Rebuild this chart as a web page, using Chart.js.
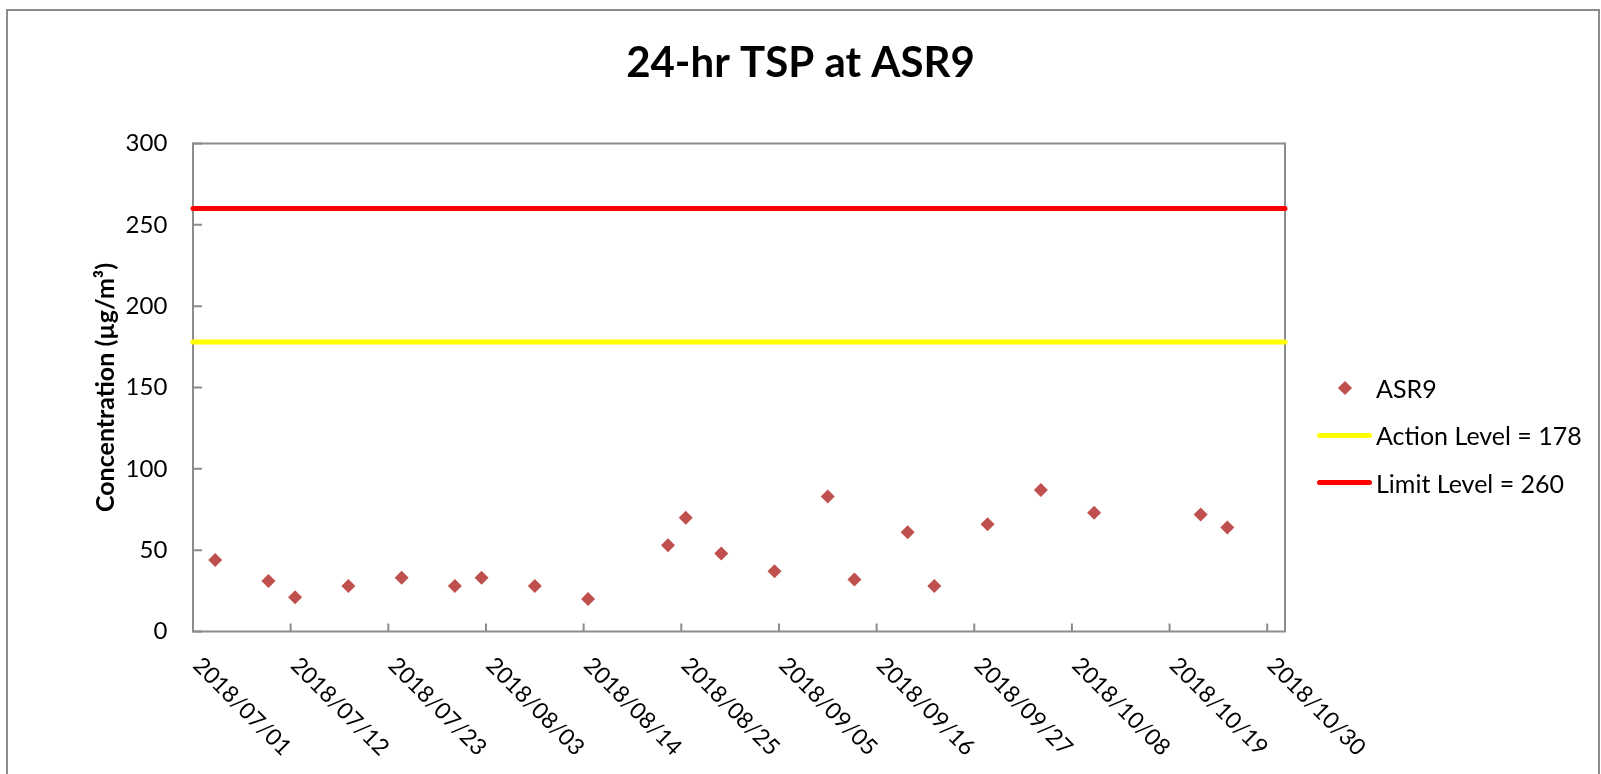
<!DOCTYPE html>
<html>
<head>
<meta charset="utf-8">
<title>24-hr TSP at ASR9</title>
<script src="https://cdn.jsdelivr.net/npm/chart.js@4.4.1/dist/chart.umd.min.js"></script>
<style>
  html, body { margin: 0; padding: 0; background: #fff; overflow: hidden; }
  .chart-wrap { position: relative; width: 1601px; height: 774px; }
  #legend { position: absolute; left: 1317px; top: 364px; font: 25px Lato, sans-serif; color: #000; }
  .legend-item { display: flex; align-items: center; height: 47.5px; white-space: nowrap; }
  .legend-mark { position: relative; width: 55px; height: 100%; margin-right: 4px; }
  .legend-mark .diamond { position: absolute; left: 22.5px; top: calc(50% - 5px); width: 10px; height: 10px; transform: rotate(45deg); }
  .legend-mark .line { position: absolute; left: 0; right: 0; top: calc(50% - 2.5px); height: 5px; border-radius: 2.5px; }
</style>
</head>
<body>
<div class="chart-wrap">
  <canvas id="chart-tsp"></canvas>
  <div id="legend"></div>
</div>
<script>
// ===== DATA =====
const axisStart = '2018/07/01';
const axisEnd = '2018/11/01';
const xTickLabels = ['2018/07/01', '2018/07/12', '2018/07/23', '2018/08/03', '2018/08/14', '2018/08/25',
  '2018/09/05', '2018/09/16', '2018/09/27', '2018/10/08', '2018/10/19', '2018/10/30'];
const sampleDates = ['2018/07/03', '2018/07/09', '2018/07/12', '2018/07/18', '2018/07/24', '2018/07/30',
  '2018/08/02', '2018/08/08', '2018/08/14', '2018/08/23', '2018/08/25', '2018/08/29',
  '2018/09/04', '2018/09/10', '2018/09/13', '2018/09/19', '2018/09/22', '2018/09/28',
  '2018/10/04', '2018/10/10', '2018/10/22', '2018/10/25'];
const asr9Values = [44, 31, 21, 28, 33, 28, 33, 28, 20, 53, 70, 48, 37, 83, 32, 61, 28, 66, 87, 73, 72, 64];
const actionLevel = 178;
const limitLevel = 260;
const yMax = 300;
const yStep = 50;

// days since axis start
const dayOf = s => {
  const toUTC = d => { const [y, m, dd] = d.split('/').map(Number); return Date.UTC(y, m - 1, dd); };
  return (toUTC(s) - toUTC(axisStart)) / 864e5;
};
const lastDay = dayOf(axisEnd);

// like an Excel date axis, each sample sits in the middle of its day
const asr9Points = sampleDates.map((d, i) => ({ x: dayOf(d) + 0.5, y: asr9Values[i] }));
const levelLine = v => [{ x: 0, y: v }, { x: lastDay, y: v }];

Chart.defaults.font.family = 'Lato';
Chart.defaults.color = '#000';

const AXIS_GREY = '#8c8c8c';

// frame, plot border, inside ticks and slanted date labels
const plotFrame = {
  id: 'plotFrame',
  beforeDraw(chart) {
    const { ctx } = chart;
    ctx.save();
    ctx.strokeStyle = AXIS_GREY;
    ctx.lineWidth = 2;
    ctx.strokeRect(7, 10, 1592, 820);
    ctx.restore();
  },
  beforeDatasetsDraw(chart) {
    const { ctx, chartArea: a, scales: { x, y } } = chart;
    ctx.save();
    ctx.strokeStyle = AXIS_GREY;
    ctx.lineWidth = 2;
    ctx.strokeRect(a.left, a.top, a.right - a.left, a.bottom - a.top);
    ctx.beginPath();
    y.ticks.forEach(t => {
      const py = y.getPixelForValue(t.value);
      ctx.moveTo(a.left, py); ctx.lineTo(a.left + 9, py);
    });
    x.ticks.forEach(t => {
      const px = x.getPixelForValue(t.value);
      ctx.moveTo(px, a.bottom); ctx.lineTo(px, a.bottom - 8);
    });
    ctx.stroke();

    ctx.fillStyle = '#000';
    ctx.font = '23px Lato';
    ctx.textAlign = 'left';
    ctx.textBaseline = 'middle';
    x.ticks.forEach(t => {
      ctx.save();
      ctx.translate(x.getPixelForValue(t.value) + 4, a.bottom + 30);
      ctx.rotate(Math.PI / 4);
      ctx.fillText(t.label, 0, 0);
      ctx.restore();
    });
    ctx.restore();
  }
};

const chart = new Chart(document.getElementById('chart-tsp'), {
  type: 'scatter',
  data: {
    datasets: [
      { label: 'ASR9', data: asr9Points, pointStyle: 'rectRot', pointRadius: 7, pointHoverRadius: 7,
        backgroundColor: '#C0504D', borderColor: '#C0504D', borderWidth: 0 },
      { label: `Action Level = ${actionLevel}`, data: levelLine(actionLevel), showLine: true,
        borderColor: '#FFFF00', backgroundColor: '#FFFF00', borderWidth: 5, borderCapStyle: 'round',
        pointRadius: 0, clip: false },
      { label: `Limit Level = ${limitLevel}`, data: levelLine(limitLevel), showLine: true,
        borderColor: '#FF0000', backgroundColor: '#FF0000', borderWidth: 5, borderCapStyle: 'round',
        pointRadius: 0, clip: false }
    ]
  },
  options: {
    responsive: true, maintainAspectRatio: false, animation: false,
    layout: { padding: 0 },
    plugins: {
      legend: { display: false },
      tooltip: { enabled: false },
      title: {
        display: true, text: '24-hr TSP at ASR9', color: '#000',
        font: { size: 42, weight: 'bold' },
        padding: { top: 37.8, bottom: 55.3 }
      }
    },
    scales: {
      x: {
        type: 'linear', position: 'bottom', min: 0, max: lastDay,
        grid: { display: false, drawTicks: false }, border: { display: false },
        ticks: { display: false, callback: (v, i) => xTickLabels[i] },
        afterBuildTicks: s => { s.ticks = xTickLabels.map(dayOf).map(value => ({ value })); },
        afterFit: s => { s.height = 142.5; }
      },
      y: {
        min: 0, max: yMax,
        grid: { display: false, drawTicks: false }, border: { display: false },
        ticks: { stepSize: yStep, padding: 25.7, color: '#000', font: { size: 24 } },
        title: {
          display: true, text: 'Concentration (µg/m³)', color: '#000',
          font: { size: 25, weight: 'bold' }, padding: { top: 91, bottom: 0 }
        },
        afterFit: s => { s.width = 193; }
      },
      // empty right-hand axis that keeps room for the html legend
      legendSpace: {
        type: 'linear', position: 'right', display: true,
        grid: { display: false, drawTicks: false }, border: { display: false },
        ticks: { display: false },
        afterFit: s => { s.width = 316; }
      }
    }
  },
  plugins: [plotFrame]
});

// html legend built from the datasets
document.getElementById('legend').innerHTML = chart.data.datasets.map(ds => {
  const mark = ds.showLine
    ? `<span class="line" style="background:${ds.borderColor}"></span>`
    : `<span class="diamond" style="background:${ds.backgroundColor}"></span>`;
  return `<div class="legend-item"><span class="legend-mark">${mark}</span><span>${ds.label}</span></div>`;
}).join('');
</script>
</body>
</html>
